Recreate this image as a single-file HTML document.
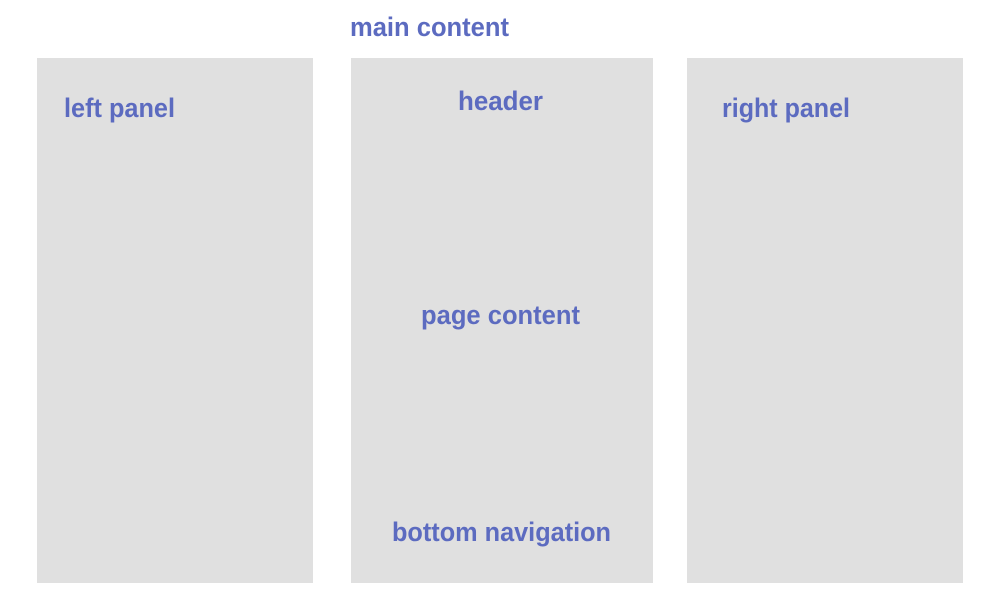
<!DOCTYPE html>
<html><head><meta charset="utf-8"><style>
html,body{margin:0;padding:0;background:#fff;}
svg{display:block;}
text{font-family:"Liberation Sans",sans-serif;font-weight:bold;font-size:27px;fill:#5c6bc0;}
</style></head><body>
<svg width="1000" height="600" viewBox="0 0 1000 600" xmlns="http://www.w3.org/2000/svg">
<rect x="37" y="58" width="276" height="525" fill="#e0e0e0"/>
<rect x="351" y="58" width="302" height="525" fill="#e0e0e0"/>
<rect x="687" y="58" width="276" height="525" fill="#e0e0e0"/>
<text x="350" y="36" textLength="159" lengthAdjust="spacingAndGlyphs">main content</text>
<text x="64" y="117" textLength="111" lengthAdjust="spacingAndGlyphs">left panel</text>
<text x="458" y="110" textLength="85" lengthAdjust="spacingAndGlyphs">header</text>
<text x="722" y="117" textLength="128" lengthAdjust="spacingAndGlyphs">right panel</text>
<text x="421" y="324" textLength="159" lengthAdjust="spacingAndGlyphs">page content</text>
<text x="392" y="541" textLength="219" lengthAdjust="spacingAndGlyphs">bottom navigation</text>
</svg>
</body></html>
